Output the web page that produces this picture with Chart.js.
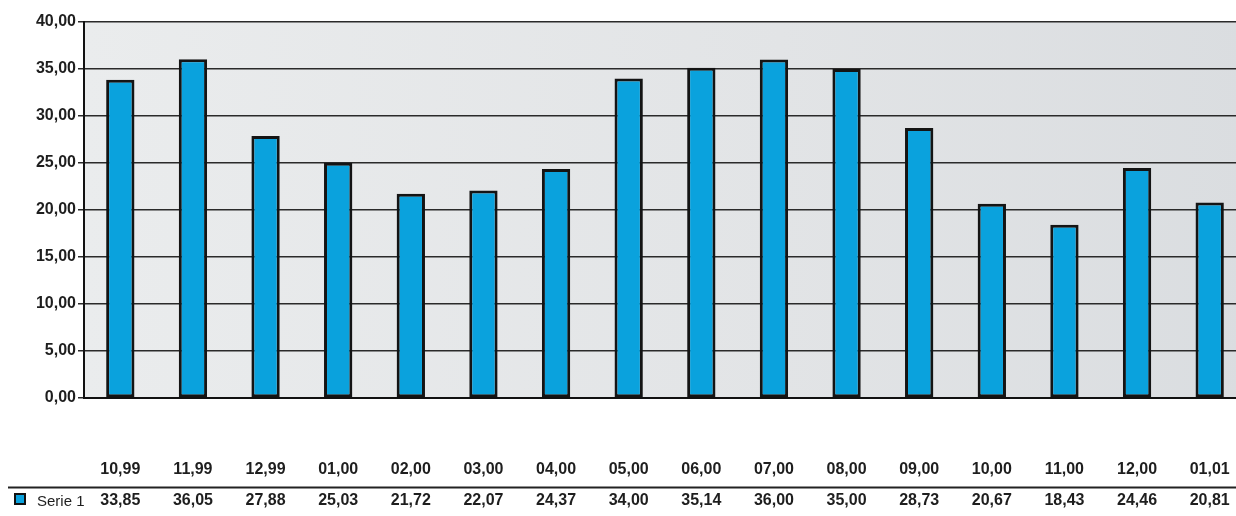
<!DOCTYPE html>
<html><head><meta charset="utf-8">
<script src="https://cdn.jsdelivr.net/npm/chart.js@4.4.1/dist/chart.umd.min.js"></script>
<style>
html,body{margin:0;padding:0;background:#fff;overflow:hidden;width:1236px;height:516px}
#wrap{position:absolute;left:0;top:0;width:1246px;height:516px}
</style></head><body>
<div id="wrap"><canvas id="c"></canvas></div>
<script>
const categories = ["10,99","11,99","12,99","01,00","02,00","03,00","04,00","05,00","06,00","07,00","08,00","09,00","10,00","11,00","12,00","01,01"];
const serie1 = [33.85,36.05,27.88,25.03,21.72,22.07,24.37,34.00,35.14,36.00,35.00,28.73,20.67,18.43,24.46,20.81];
const seriesName = "Serie 1";
const yTicks = [0,5,10,15,20,25,30,35,40];

const FONT = '"Liberation Sans",Arial,sans-serif';
const fmt = v => v.toFixed(2).replace('.', ',');
const BLUE = '#0aa2dd';

const bgPlugin = {
  id: 'bg',
  beforeDraw(chart) {
    const {ctx, chartArea: a} = chart;
    ctx.save();
    const g = ctx.createLinearGradient(a.left, 0, a.right, 0);
    g.addColorStop(0, '#eaeced');
    g.addColorStop(0.6, '#e2e4e6');
    g.addColorStop(1, '#dadde0');
    ctx.fillStyle = g;
    ctx.fillRect(a.left, a.top, a.right - a.left, a.bottom - a.top);
    ctx.restore();
  }
};

const tablePlugin = {
  id: 'table',
  afterDraw(chart) {
    const {ctx} = chart;
    const xs = chart.scales.x;
    ctx.save();
    ctx.strokeStyle = '#222';
    ctx.lineWidth = 2;
    ctx.beginPath();
    ctx.moveTo(8, 487.5);
    ctx.lineTo(chart.width, 487.5);
    ctx.stroke();
    ctx.fillStyle = BLUE;
    ctx.fillRect(15, 494, 10, 10);
    ctx.strokeStyle = '#111';
    ctx.lineWidth = 2;
    ctx.strokeRect(15, 494, 10, 10);
    ctx.fillStyle = '#1e1e1e';
    ctx.font = '15px ' + FONT;
    ctx.textBaseline = 'middle';
    ctx.textAlign = 'left';
    ctx.fillText(seriesName, 37, 502);
    ctx.textAlign = 'center';
    ctx.font = 'bold 16px ' + FONT;
    categories.forEach((c, i) => {
      ctx.fillText(c, xs.getPixelForValue(i), 470);
    });
    serie1.forEach((v, i) => {
      ctx.fillText(fmt(v), xs.getPixelForValue(i), 501);
    });
    ctx.restore();
  }
};

new Chart(document.getElementById('c'), {
  type: 'bar',
  data: {
    labels: categories,
    datasets: [{
      label: seriesName,
      data: serie1,
      backgroundColor: BLUE,
      borderColor: '#141414',
      borderWidth: 3,
      borderSkipped: false,
      categoryPercentage: 1,
      barPercentage: 0.39
    }]
  },
  options: {
    responsive: true,
    maintainAspectRatio: false,
    animation: false,
    devicePixelRatio: 1,
    layout: { padding: { top: 22, left: 0, right: 0, bottom: 0 } },
    plugins: { legend: { display: false }, tooltip: { enabled: false } },
    scales: {
      x: {
        grid: { display: false, drawTicks: false },
        border: { display: true, color: '#111', width: 2 },
        ticks: { display: false },
        afterFit: s => { s.height = 118; }
      },
      y: {
        min: 0, max: 40,
        afterBuildTicks: s => { s.ticks = yTicks.map(v => ({ value: v })); },
        grid: { color: '#2a2a2a', lineWidth: 1.5, drawTicks: true, tickLength: 6, tickColor: '#2a2a2a' },
        border: { display: true, color: '#111', width: 2 },
        ticks: { color: '#1e1e1e', font: { family: FONT, size: 16, weight: 'bold' }, padding: 2, callback: v => fmt(v) },
        afterFit: s => { s.width = 84; }
      }
    }
  },
  plugins: [bgPlugin, tablePlugin]
});
</script>
</body></html>
